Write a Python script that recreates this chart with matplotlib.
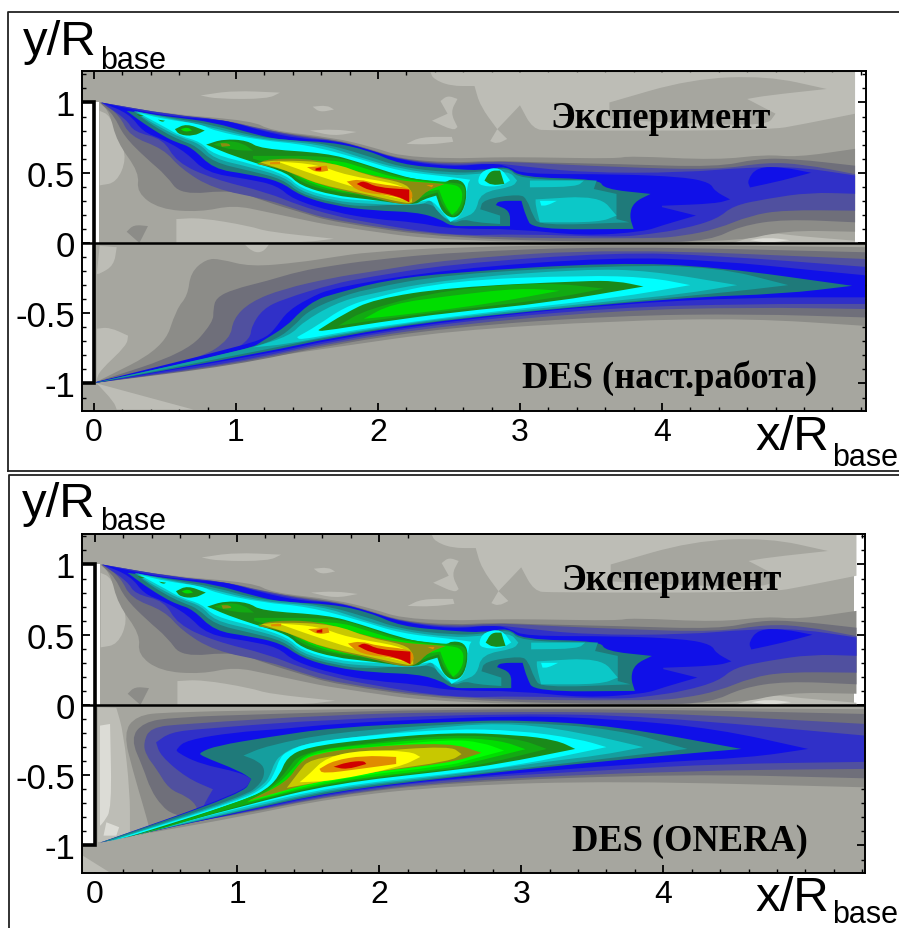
import numpy as np
import matplotlib
matplotlib.use("Agg")
import matplotlib.pyplot as plt
from matplotlib.lines import Line2D
from matplotlib.patches import PathPatch
from matplotlib.path import Path
from matplotlib.ticker import MultipleLocator

W, H = 899, 929

# contour band colours, lowest to highest
band_colors = ["#dcdcd6", "#bdbdb6", "#a6a69f", "#8c8c88", "#6f6f7a", "#50509f", "#3030c8",
               "#1010e8", "#1f7a7a", "#159e9e", "#0cc8c8", "#00ffff", "#1a8a1a", "#12aa12",
               "#00dd00", "#00ff00", "#8c8c10", "#c8c800", "#ffff00", "#e08c00", "#d00000"]

exp_1a = [(2.37,1.215),(5.36,1.215),(5.36,.92),(5.0,.847),(4.74,.80),(3.21,.80),(3.09,.81),(3.0,.98),(2.84,.81),(2.72,.975),(2.68,1.117),(2.51,1.117),(2.39,1.167)]
exp_1b = [(.75,1.05),(.98,1.085),(1.31,1.07),(1.22,1.025),(.87,1.025)]
exp_1c = [(1.54,.97),(1.64,.98),(1.69,.95),(1.59,.93)]
exp_1d = [(1.52,.80),(1.69,.81),(1.85,.79),(1.69,.76)]
exp_1e = [(2.2,.705),(2.30,.755),(2.52,.755),(2.53,.72),(2.37,.70)]
exp_1f = [(2.44,1.01),(2.49,1.05),(2.56,1.025),(2.51,.93),(2.56,.825),(2.53,.80),(2.38,.87),(2.49,.92)]
exp_1j = [(2.84,.81),(2.79,.725),(2.84,.705),(2.91,.74)]
exp_1g = [(.04,.94),(.11,.91),(.18,.74),(.23,.60),(.16,.43),(.04,.41)]
exp_1h = [(.58,.17),(.75,.18),(1.10,.12),(1.22,.08),(1.69,.03),(1.45,0),(.58,0)]
exp_1i = [(4.5,0),(4.74,.076),(4.95,.05),(5.36,.016),(5.36,0)]
exp_2a = [(3.63,1.0),(4.2,1.167),(4.74,1.19),(5.16,1.096),(4.74,1.05),(4.6,1.025),(4.8,.92),(4.74,.835),(4.2,.85),(3.63,.88)]
exp_0a = [(4.62,.02),(4.74,.04),(4.9,.02),(4.75,0)]
exp_3 = [(.04,1.0),(.5,.92),(1.12,.87),(1.24,.80),(1.69,.75),(1.97,.68),(2.15,.62),(2.51,.60),(2.81,.61),(3.09,.61),(3.68,.60),(3.77,.62),(4.39,.59),(4.73,.63),(4.95,.61),(5.36,.67),
         (5.36,.08),(4.86,.09),(4.5,0),(2.51,.005),(1.69,.12),(1.45,.17),(1.22,.22),(.98,.27),(.75,.22),(.46,.24),(.30,.36),(.32,.50),(.16,.72),(.11,.93)]
exp_3b = [(.23,.08),(.28,.13),(.38,.12),(.32,0)]
exp_4 = [(.04,1.0),(.5,.91),(.98,.87),(1.19,.80),(1.69,.74),(1.94,.67),(2.15,.60),(2.51,.57),(2.81,.586),(3.09,.574),(3.68,.562),(4.39,.54),(4.67,.60),(4.92,.60),(5.36,.55),
         (5.36,.147),(4.86,.17),(4.55,.12),(4.34,.017),(3.92,0),(2.51,.03),(1.69,.147),(1.45,.22),(1.22,.29),(.98,.38),(.61,.34),(.51,.48),(.37,.60),(.21,.76),(.14,.91)]
exp_5 = [(.05,1.0),(.56,.91),(.90,.875),(1.15,.82),(1.5,.75),(1.69,.735),(1.92,.67),(2.15,.595),(2.51,.56),(2.81,.58),(2.98,.574),(3.68,.54),(4.39,.52),(4.73,.574),(5.0,.56),(5.36,.49),
         (5.36,.23),(4.86,.235),(4.62,.195),(4.39,.10),(4.15,.05),(3.92,.03),(2.51,.04),(1.69,.16),(1.45,.23),(1.22,.31),(.84,.385),(.61,.53),(.49,.67),(.25,.76),(.18,.91)]
exp_6 = [(.05,1.0),(.56,.91),(.90,.88),(1.15,.81),(1.5,.745),(1.69,.73),(1.92,.67),(2.15,.595),(2.51,.55),(2.81,.57),(2.98,.55),(3.45,.50),(4.15,.50),(4.62,.54),(4.97,.54),(5.36,.48),
         (5.36,.35),(5.04,.36),(4.74,.315),(4.5,.266),(4.39,.17),(4.15,.10),(3.92,.064),(3.68,.04),(3.0,.065),(2.51,.05),(1.92,.147),(1.69,.195),(1.45,.265),(1.22,.36),(.84,.455),(.58,.575),(.49,.74),(.28,.79),(.23,.88)]
exp_7 = [(.05,1.0),(.32,.94),(.56,.90),(.84,.88),(.98,.86),(1.17,.80),(1.45,.74),(1.69,.73),(1.92,.67),(2.15,.59),(2.51,.54),(2.81,.57),(2.93,.54),(3.02,.49),(3.68,.49),(4.15,.47),(4.34,.43),(4.37,.37),(4.48,.31),(4.38,.28),(4.0,.265),(4.0,.255),(4.24,.195),(4.0,.125),(3.87,.08),(3.45,.05),(2.98,.10),
         (2.51,.10),(2.27,.147),(1.97,.17),(1.69,.22),(1.40,.31),(1.29,.41),(1.08,.455),(.79,.50),(.65,.645),(.48,.74),(.345,.79),(.25,.92)]
exp_7b = [(4.6,.445),(4.67,.54),(4.85,.54),(5.05,.50),(4.85,.445),(4.62,.395)]
exp_8 = [(.23,.94),(.56,.895),(.84,.86),(1.12,.776),(1.33,.73),(1.66,.72),(1.94,.657),(2.15,.56),(2.51,.527),(2.74,.515),(2.91,.55),(3.0,.467),(3.56,.455),(3.59,.384),(3.92,.349),(3.8,.29),(3.77,.195),(3.8,.10),(3.09,.095),(3.04,.195),(3.01,.30),(2.85,.30),(2.83,.27),(2.93,.23),(2.93,.12),(2.65,.12),
         (2.51,.12),(2.44,.17),(2.27,.22),(1.97,.23),(1.69,.265),(1.45,.337),(1.31,.44),(1.08,.49),(.84,.527),(.69,.68),(.58,.716),(.49,.76),(.35,.85)]
exp_9 = [(.28,.94),(.56,.887),(.84,.84),(1.15,.75),(1.59,.716),(1.90,.63),(2.15,.54),(2.51,.50),(2.72,.503),(2.92,.54),(2.99,.455),(3.54,.444),(3.52,.384),(3.68,.349),(3.68,.17),(3.77,.147),(3.14,.123),(3.09,.195),(3.05,.31),(3.0,.349),(2.74,.31),(2.72,.24),(2.86,.195),(2.86,.135),(2.69,.147),(2.6,.17),(2.53,.135),
         (2.44,.195),(2.37,.30),(1.92,.254),(1.69,.285),(1.45,.35),(1.33,.455),(1.09,.515),(.84,.574),(.72,.69),(.61,.73),(.49,.79),(.35,.88)]
exp_10 = [(.30,.935),(.56,.88),(.84,.82),(1.17,.735),(1.59,.705),(1.87,.61),(2.15,.527),(2.51,.48),(2.7,.49),(2.92,.515),(2.98,.444),(2.95,.40),(2.72,.36),(2.69,.218),(2.6,.18),(2.52,.147),
          (2.42,.218),(2.37,.31),(2.30,.266),(1.92,.278),(1.69,.30),(1.45,.37),(1.35,.467),(1.10,.54),(.84,.6),(.75,.705),(.61,.75),(.49,.81),(.35,.89)]
exp_10b = [(3.11,.31),(3.56,.337),(3.68,.195),(3.56,.147),(3.14,.147),(3.11,.266)]
exp_10c = [(3.07,.444),(3.45,.444),(3.4,.40),(3.07,.396)]
exp_11 = [(.32,.925),(.51,.878),(.75,.847),(.84,.80),(1.17,.73),(1.50,.70),(1.87,.60),(2.15,.51),(2.51,.47),(2.65,.45),(2.63,.42),(2.62,.28),(2.58,.19),(2.51,.15),(2.44,.24),(2.37,.31),(2.30,.29),(1.92,.30),
          (1.69,.32),(1.45,.39),(1.36,.48),(1.12,.56),(.84,.63),(.75,.72),(.61,.76),(.49,.83),(.35,.905)]
exp_11b = [(2.7,.45),(2.74,.52),(2.86,.54),(2.93,.445),(2.86,.40),(2.72,.405)]
exp_11c = [(3.14,.30),(3.26,.30),(3.19,.266),(3.15,.266)]
exp_12 = [(.79,.70),(.91,.74),(1.08,.73),(1.17,.67),(1.64,.64),(1.87,.574),(2.15,.48),(2.32,.444),(2.48,.43),(2.507,.455),(2.6,.444),(2.63,.36),(2.6,.218),(2.53,.17),(2.45,.218),(2.41,.337),(2.32,.31),(2.25,.266),(1.92,.313),(1.69,.337),(1.45,.408),(1.36,.50),(1.12,.574),(.93,.64),(.84,.68)]
exp_12b = [(.57,.81),(.65,.85),(.78,.80),(.70,.76),(.6,.77)]
exp_12c = [(.30,.92),(.35,.905),(.32,.90)]
exp_12d = [(.45,.878),(.50,.87),(.48,.86)]
exp_12e = [(2.75,.444),(2.79,.515),(2.86,.515),(2.89,.42),(2.8,.41)]
exp_13 = [(1.12,.62),(1.69,.62),(1.92,.55),(2.15,.467),(2.51,.43),(2.6,.42),(2.62,.36),(2.59,.23),(2.53,.19),(2.46,.25),(2.42,.36),(2.32,.33),(2.2,.27),(1.92,.337),(1.69,.36),(1.45,.43),(1.36,.527),(1.12,.60)]
exp_13b = [(.84,.70),(.93,.73),(1.05,.71),(1.12,.657),(.98,.66)]
exp_14 = [(1.15,.574),(1.69,.60),(1.92,.527),(2.15,.455),(2.51,.42),(2.58,.40),(2.6,.33),(2.57,.24),(2.52,.2),(2.47,.27),(2.43,.38),(2.3,.36),(2.22,.29),(1.92,.35),(1.69,.37),(1.45,.455),(1.38,.527),(1.17,.56)]
exp_14b = [(.61,.81),(.66,.825),(.69,.80),(.64,.79)]
exp_16 = [(1.15,.56),(1.22,.60),(1.57,.60),(1.87,.50),(2.15,.444),(2.34,.43),(2.47,.42),(2.34,.37),(2.27,.29),(2.18,.266),(1.92,.337),(1.69,.384),(1.45,.467),(1.33,.527)]
exp_16b = [(.89,.71),(.95,.71),(.96,.69),(.90,.685)]
exp_17 = [(1.17,.574),(1.29,.59),(1.69,.574),(1.92,.48),(2.18,.43),(2.24,.37),(2.24,.29),(2.2,.28),(1.92,.347),(1.57,.42),(1.40,.50)]
exp_18 = [(1.29,.58),(1.57,.56),(1.78,.48),(2.15,.42),(2.22,.36),(2.21,.30),(1.87,.384),(1.57,.48),(1.40,.54)]
exp_19a = [(1.24,.574),(1.31,.58),(1.31,.56),(1.24,.56)]
exp_19b = [(1.50,.54),(1.64,.55),(1.65,.515),(1.57,.50)]
exp_19c = [(1.78,.437),(1.87,.455),(1.99,.42),(2.22,.396),(2.25,.337),(2.22,.29),(2.11,.337),(1.87,.36)]
exp_19d = [(2.34,.413),(2.39,.413),(2.38,.396)]
exp_20a = [(1.56,.53),(1.60,.54),(1.60,.515),(1.56,.515)]
exp_20b = [(1.85,.42),(1.90,.444),(1.99,.396),(2.22,.38),(2.22,.29),(2.13,.337),(1.94,.372)]

exp_shapes = [(1,exp_1a),(1,exp_1b),(1,exp_1c),(1,exp_1d),(1,exp_1e),(1,exp_1f),(1,exp_1j),(1,exp_1g),(1,exp_1h),(1,exp_1i),(2,exp_2a),(0,exp_0a),
              (3,exp_3),(3,exp_3b),(4,exp_4),(5,exp_5),(6,exp_6),(7,exp_7),(7,exp_7b),(8,exp_8),(9,exp_9),(10,exp_10),(10,exp_10b),(10,exp_10c),
              (11,exp_11),(11,exp_11b),(11,exp_11c),(12,exp_12),(12,exp_12b),(12,exp_12c),(12,exp_12d),(12,exp_12e),(13,exp_13),(13,exp_13b),
              (14,exp_14),(14,exp_14b),(16,exp_16),(16,exp_16b),(17,exp_17),(18,exp_18),(19,exp_19a),(19,exp_19b),(19,exp_19c),(19,exp_19d),(20,exp_20a),(20,exp_20b)]

# DES, this work
des_1a = [(.02,-.61),(.11,-.60),(.24,-.66),(.23,-.73),(.04,-.91),(.02,-.97)]
des_1b = [(.04,-.02),(.16,-.03),(.14,-.16),(.04,-.22),(.02,-.22)]
des_1c = [(1.05,0),(1.24,0),(1.19,-.066),(1.12,-.066)]
des_1d = [(.02,-1.0),(.70,-1.186),(.16,-1.186),(.14,-1.13)]
des_3 = [(.014,-.99),(.49,-.75),(.58,-.47),(.66,-.375),(.68,-.21),(.79,-.114),(.89,-.114),(1.10,-.17),(1.45,-.138),(1.69,-.10),(1.92,-.066),(2.51,-.03),(3.68,-.01),(5.43,-.03),
         (5.43,-.59),(4.62,-.537),(3.68,-.553),(2.51,-.624),(1.69,-.743),(.7,-.89)]
des_4 = [(.014,-.99),(.65,-.78),(.84,-.565),(.84,-.47),(.86,-.39),(.98,-.33),(1.22,-.27),(1.45,-.2),(1.69,-.16),(1.92,-.126),(2.51,-.066),(3.68,-.023),(5.43,-.066),
         (5.43,-.53),(4.62,-.505),(3.68,-.517),(2.51,-.60),(1.69,-.72),(1.0,-.87),(.014,-.995)]
des_5 = [(.014,-.99),(.746,-.825),(.96,-.683),(.98,-.54),(1.10,-.42),(1.33,-.327),(1.69,-.245),(1.92,-.21),(2.51,-.114),(3.68,-.04),(5.43,-.114),
         (5.43,-.47),(4.62,-.458),(3.68,-.48),(2.51,-.584),(1.69,-.707),(1.0,-.86),(.014,-.995)]
des_6 = [(.014,-.99),(.96,-.78),(1.10,-.683),(1.11,-.59),(1.19,-.47),(1.33,-.40),(1.69,-.29),(1.92,-.245),(2.51,-.15),(3.68,-.066),(4.385,-.09),(5.43,-.17),
         (5.43,-.434),(4.62,-.434),(3.68,-.458),(2.51,-.565),(1.69,-.695),(1.0,-.85),(.014,-.995)]
des_7 = [(.014,-.99),(1.05,-.73),(1.22,-.67),(1.29,-.59),(1.36,-.49),(1.50,-.40),(1.69,-.315),(2.51,-.185),(3.68,-.10),(4.385,-.126),(5.09,-.197),(5.43,-.23),
         (5.43,-.387),(4.62,-.387),(3.68,-.434),(2.51,-.553),(1.69,-.683),(1.22,-.79),(.014,-.995)]
des_8 = [(.014,-.992),(1.10,-.755),(1.19,-.695),(1.36,-.59),(1.45,-.49),(1.57,-.40),(1.69,-.363),(2.04,-.268),(2.51,-.21),(3.68,-.138),(4.385,-.17),(5.34,-.305),
         (4.855,-.363),(4.15,-.387),(2.51,-.54),(1.69,-.67),(1.22,-.775),(.014,-.995)]
des_9 = [(.02,-.992),(1.10,-.75),(1.29,-.683),(1.41,-.59),(1.50,-.49),(1.69,-.40),(1.92,-.327),(2.51,-.22),(3.68,-.16),(4.385,-.17),(4.89,-.30),
         (4.385,-.36),(2.51,-.535),(1.69,-.66),(1.2,-.76),(.02,-.993)]
des_10 = [(1.12,-.743),(1.38,-.66),(1.47,-.565),(1.69,-.434),(1.92,-.363),(2.51,-.256),(3.45,-.185),(3.92,-.197),(4.53,-.30),(4.15,-.363),(3.68,-.41),(2.51,-.53),(2.0,-.605),(1.69,-.655),(1.36,-.72)]
des_11 = [(1.43,-.67),(1.57,-.59),(1.76,-.458),(1.97,-.387),(2.51,-.268),(3.45,-.23),(3.92,-.245),(4.2,-.30),(3.68,-.39),(2.98,-.47),(2.51,-.525),(2.0,-.595),(1.69,-.645),(1.45,-.69)]
des_12 = [(1.58,-.62),(1.76,-.505),(1.97,-.40),(2.51,-.315),(3.45,-.27),(3.68,-.27),(3.87,-.31),(3.21,-.425),(2.51,-.495),(2.0,-.565),(1.6,-.63)]
des_13 = [(1.72,-.59),(1.92,-.47),(2.51,-.327),(3.2,-.28),(3.59,-.325),(3.21,-.40),(2.51,-.48),(1.9,-.56)]
des_14 = [(1.90,-.54),(2.09,-.434),(2.51,-.375),(3.0,-.32),(3.28,-.34),(2.85,-.42),(2.51,-.47),(2.1,-.52)]

des_shapes = [(1,des_1a),(1,des_1b),(1,des_1c),(1,des_1d),(3,des_3),(4,des_4),(5,des_5),(6,des_6),(7,des_7),(8,des_8),(9,des_9),
              (10,des_10),(11,des_11),(12,des_12),(13,des_13),(14,des_14)]

# DES, ONERA
one_1 = [(.03,-.017),(.15,-.02),(.2,-.195),(.246,-.62),(.246,-.906),(.06,-.975),(.02,-.975),(.02,-.017)]
one_0a = [(.035,-.147),(.106,-.135),(.118,-.74),(.06,-.835),(.035,-.86)]
one_0b = [(.08,-.835),(.17,-.87),(.15,-.93),(.06,-.93)]
one_1b = [(-.09,-1.07),(.1,-1.19),(-.09,-1.19)]
one_3 = [(.387,-.89),(.34,-.72),(.27,-.48),(.2,-.2),(.29,-.076),(.505,-.05),(1.68,-.03),(3.2,-.015),(5.42,-.03),(5.42,-.586),(3.67,-.54),(2.5,-.574),(1.68,-.66),(1.0,-.80),(.387,-.91)]
one_4 = [(.25,-.24),(.34,-.123),(.55,-.088),(1.21,-.064),(2.5,-.03),(3.9,-.03),(5.42,-.064),(5.42,-.522),(4.14,-.49),(2.5,-.55),(1.68,-.645),(1.0,-.785),(.72,-.82),(.55,-.78),(.47,-.72),(.39,-.6),(.34,-.45)]
one_5 = [(.34,-.27),(.39,-.16),(.62,-.135),(1.68,-.07),(2.5,-.05),(3.9,-.05),(5.42,-.135),(5.42,-.455),(4.14,-.467),(2.5,-.54),(1.68,-.64),(1.0,-.78),(.716,-.776),(.72,-.72),(.646,-.65),(.52,-.6),(.43,-.45),(.36,-.36)]
one_6 = [(.43,-.266),(.53,-.195),(.74,-.17),(1.68,-.10),(2.97,-.06),(3.9,-.08),(5.42,-.218),(5.42,-.405),(4.38,-.42),(3.67,-.46),(2.5,-.527),(1.68,-.63),(1.0,-.775),(.72,-.83),(.76,-.72),(.83,-.6),(.646,-.52),(.46,-.36)]
one_7 = [(.575,-.31),(.646,-.25),(.974,-.195),(1.33,-.17),(1.68,-.135),(2.15,-.11),(2.97,-.076),(3.67,-.10),(4.38,-.17),(5.02,-.313),(4.61,-.375),(3.91,-.41),(2.5,-.522),(1.68,-.62),(1.02,-.765),(.035,-.98),(1.045,-.62),(1.10,-.527),(1.02,-.48),(.74,-.42),(.575,-.337)]
one_8 = [(.74,-.337),(.857,-.29),(1.21,-.23),(1.68,-.16),(2.5,-.12),(2.97,-.105),(3.67,-.15),(4.55,-.313),(3.67,-.39),(2.5,-.515),(1.68,-.615),(1.02,-.76),(.035,-.98),(1.045,-.63),(1.10,-.527),(1.02,-.47),(.74,-.36)]
one_9 = [(1.045,-.36),(1.21,-.29),(1.68,-.195),(2.5,-.135),(2.97,-.12),(3.67,-.17),(4.17,-.313),(3.44,-.40),(2.5,-.51),(1.68,-.6),(1.05,-.75),(.06,-.975),(1.05,-.65),(1.17,-.56),(1.2,-.46),(1.15,-.40)]
one_10 = [(1.26,-.42),(1.3,-.36),(1.44,-.28),(1.91,-.218),(2.5,-.147),(2.97,-.13),(3.44,-.2),(3.86,-.30),(3.55,-.36),(3.2,-.40),(2.5,-.5),(1.68,-.59),(1.05,-.74),(.1,-.97),(1.05,-.66),(1.2,-.56),(1.24,-.48)]
one_11 = [(1.3,-.38),(1.35,-.33),(1.51,-.266),(1.91,-.218),(2.5,-.17),(2.97,-.18),(3.4,-.24),(3.6,-.30),(2.97,-.432),(2.5,-.49),(1.68,-.58),(1.02,-.73),(.12,-.965),(1.02,-.68),(1.21,-.58),(1.27,-.47)]
one_12 = [(1.35,-.372),(1.49,-.3),(1.91,-.245),(2.5,-.195),(2.97,-.213),(3.25,-.25),(3.38,-.313),(2.85,-.42),(2.5,-.467),(1.68,-.56),(1.07,-.71),(.2,-.95),(1.05,-.68),(1.21,-.6),(1.3,-.5)]
one_13 = [(1.44,-.34),(1.91,-.27),(2.5,-.21),(2.97,-.235),(3.18,-.313),(2.75,-.42),(2.5,-.46),(1.68,-.55),(1.07,-.70),(.3,-.93),(1.07,-.67),(1.25,-.58),(1.35,-.47)]
one_14 = [(1.49,-.33),(1.91,-.28),(2.5,-.23),(2.85,-.25),(3.03,-.315),(2.65,-.41),(2.5,-.45),(1.68,-.54),(1.07,-.695),(1.27,-.58),(1.38,-.47)]
one_15 = [(1.49,-.345),(1.91,-.3),(2.5,-.245),(2.72,-.265),(2.88,-.325),(2.6,-.40),(2.5,-.43),(1.68,-.525),(1.07,-.69),(1.3,-.585),(1.42,-.46)]
one_16 = [(1.07,-.685),(1.35,-.55),(1.44,-.41),(1.54,-.35),(1.866,-.30),(2.5,-.267),(2.72,-.34),(2.5,-.415),(1.68,-.51)]
one_17 = [(1.35,-.59),(1.44,-.47),(1.51,-.386),(1.866,-.337),(2.5,-.29),(2.58,-.35),(2.5,-.40),(2.0,-.47),(1.68,-.53)]
one_18 = [(1.44,-.55),(1.51,-.49),(1.63,-.37),(1.89,-.32),(2.22,-.33),(2.29,-.37),(2.15,-.44),(1.68,-.54)]
one_19 = [(1.58,-.455),(1.68,-.395),(1.89,-.36),(2.12,-.37),(2.12,-.42),(1.866,-.455),(1.6,-.49)]
one_20 = [(1.68,-.44),(1.77,-.408),(1.89,-.396),(1.91,-.42),(1.77,-.46)]

one_shapes = [(1,one_1),(0,one_0a),(0,one_0b),(1,one_1b),(3,one_3),(4,one_4),(5,one_5),(6,one_6),(7,one_7),(8,one_8),(9,one_9),(10,one_10),
              (11,one_11),(12,one_12),(13,one_13),(14,one_14),(15,one_15),(16,one_16),(17,one_17),(18,one_18),(19,one_19),(20,one_20)]

x_ticks = [0, 1, 2, 3, 4]
y_ticks = [-1, -0.5, 0, 0.5, 1]
y_tick_labels = ["-1", "-0.5", "0", "0.5", "1"]

plt.rcParams["font.family"] = "Liberation Sans"
fig = plt.figure(figsize=(W/100, H/100), dpi=100)


def outline(pts):
    # outline points act as quadratic controls, tips stay sharp
    p = np.array(pts, dtype=float)
    prev, nxt = np.roll(p, 1, axis=0), np.roll(p, -1, axis=0)
    verts = [(p[-1] + p[0]) / 2]
    codes = [Path.MOVETO]
    for a, b, c in zip(prev, p, nxt):
        u, v = b - a, c - b
        cosang = u @ v / (np.linalg.norm(u) * np.linalg.norm(v))
        mid = (b + c) / 2
        verts += [b, mid]
        codes += [Path.LINETO, Path.LINETO] if cosang < 0.35 else [Path.CURVE3, Path.CURVE3]
    verts.append(verts[0])
    codes.append(Path.CLOSEPOLY)
    return Path(verts, codes)


def panel(box, xlim, ylim, exp_right, lower_shapes):
    l, t, r, b = box
    ax = fig.add_axes([l/W, 1-b/H, (r-l)/W, (b-t)/H])
    ax.set_xlim(xlim)
    ax.set_ylim(ylim)
    # grey background of both halves, the body stays white
    ax.fill_between([xlim[0], exp_right], 1, ylim[1], color=band_colors[2], lw=0)
    ax.fill_between([.035, exp_right], 0, 1, color=band_colors[2], lw=0)
    ax.fill_between([0, xlim[1]], ylim[0], 0, color=band_colors[2], lw=0)
    ax.fill_between([xlim[0], 0], ylim[0], -1, color=band_colors[2], lw=0)
    for lev, pts in exp_shapes + lower_shapes:
        ax.add_patch(PathPatch(outline(pts), facecolor=band_colors[lev], lw=0, zorder=2))
    ax.plot([xlim[0], 0, 0, xlim[0]], [1, 1, -1, -1], color="black", lw=2.6, zorder=4, solid_joinstyle="miter")
    ax.axhline(0, color="black", lw=1.8, zorder=4)
    ax.set_xticks(x_ticks)
    ax.set_yticks(y_ticks)
    ax.set_yticklabels(y_tick_labels)
    ax.xaxis.set_minor_locator(MultipleLocator(0.2))
    ax.yaxis.set_minor_locator(MultipleLocator(0.1))
    ax.tick_params(which="major", direction="in", length=6, width=1.3, top=True, right=True)
    ax.tick_params(which="minor", direction="in", length=3.2, width=1, top=True, right=True)
    ax.tick_params(axis="y", labelsize=25, pad=5)
    ax.tick_params(axis="x", labelsize=23, pad=4)
    for s in ax.spines.values():
        s.set_linewidth(1.4)
        s.set_zorder(5)
    return ax


panel((82, 72, 866, 412), (-.0845, 5.437), (-1.196, 1.224), 5.36, des_shapes)
panel((82, 535, 865, 874), (-.0915, 5.42), (-1.196, 1.217), 5.34, one_shapes)


def put(x, y, s, **kw):
    fig.text(x/W, 1-y/H, s, **kw)


for x0, y0, sub_y in [(23, 55, 69), (22, 517, 530)]:
    put(x0, y0, "y/R", fontsize=35.5, va="baseline")
    put(100, sub_y, "base", fontsize=22, va="baseline")
for y0, sub_y in [(450, 466), (911, 923)]:
    put(755, y0, "x/R", fontsize=35.5, va="baseline")
    put(832, sub_y, "base", fontsize=22, va="baseline")

serif = dict(family="Liberation Serif", fontweight="bold", fontsize=26.3, ha="center", va="center", zorder=10)
put(661, 118, "Эксперимент", **serif)
put(670, 378, "DES (наст.работа)", **serif)
put(672, 581, "Эксперимент", **serif)
put(690, 842, "DES (ONERA)", **serif)

# outer boxes
for xs, ys in [((8, 8, W), (472, 13, 13)), ((8, W), (472, 472)), ((9, 9, W), (H, 476, 476))]:
    fig.add_artist(Line2D([v/W for v in xs], [1-v/H for v in ys], color="#222222", lw=1.3))

fig.savefig("out.png", dpi=100)
